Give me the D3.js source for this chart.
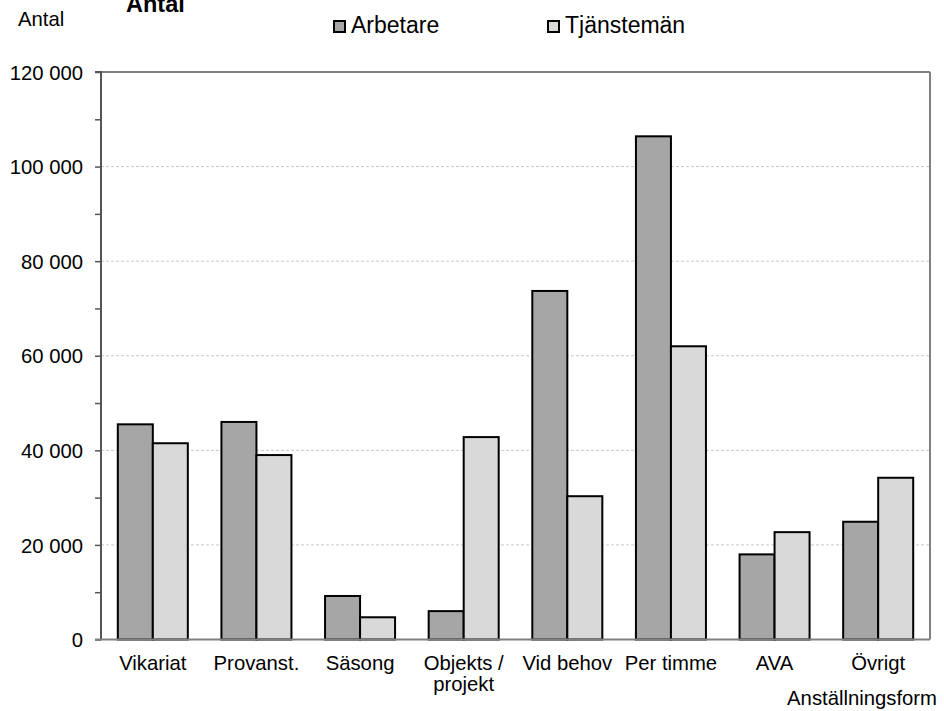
<!DOCTYPE html>
<html><head><meta charset="utf-8">
<script src="https://cdn.jsdelivr.net/npm/d3@7"></script>
<style>body{margin:0;background:#fff}text{font-family:"Liberation Sans",Arial,sans-serif;fill:#000}</style>
</head><body>
<svg id="c" width="944" height="711"></svg>
<script>
const categories = [["Vikariat"],["Provanst."],["Säsong"],["Objekts /","projekt"],["Vid behov"],["Per timme"],["AVA"],["Övrigt"]];
const seriesNames = ["Arbetare","Tjänstemän"];
const arbetare = [45500, 46000, 9200, 6000, 73700, 106400, 18000, 24900];
const tjanstemän = [41500, 39000, 4700, 42800, 30300, 62000, 22700, 34200];
const yTicks = [0, 20000, 40000, 60000, 80000, 100000, 120000];
const colors = ["#a6a6a6", "#d9d9d9"];

const svg = d3.select("#c");
const L = 101, R = 930, T = 72, B = 639.5;
const FS = "20.3px";
const y = d3.scaleLinear().domain([0,120000]).range([B,T]);
const keys = categories.map(c => c.join(" "));
const x0 = d3.scaleBand().domain(keys).range([L,R]).padding(0);
const x1 = d3.scaleBand().domain(seriesNames).range([0,x0.bandwidth()]).paddingInner(0).paddingOuter(0.48);
const fmt = v => d3.format(",")(v).replace(/,/g, " ");

// gridlines
svg.append("g").selectAll("line").data(yTicks.filter(v => v>0 && v<120000)).join("line")
  .attr("x1", L).attr("x2", R).attr("y1", d=>y(d)).attr("y2", d=>y(d))
  .attr("stroke", "#c8c8c8").attr("stroke-width", 1).attr("stroke-dasharray", "3,2");

// plot border top/right
svg.append("line").attr("x1", L).attr("x2", R).attr("y1", T).attr("y2", T).attr("stroke", "#808080").attr("stroke-width", 2);
svg.append("line").attr("x1", R).attr("x2", R).attr("y1", T).attr("y2", B).attr("stroke", "#808080").attr("stroke-width", 2);

// bars
const data = seriesNames.map((s,i) => ({s, vals: i===0 ? arbetare : tjanstemän}));
data.forEach((ser, i) => {
  svg.append("g").selectAll("rect").data(ser.vals).join("rect")
    .attr("x", (d,j) => x0(keys[j]) + x1(ser.s))
    .attr("y", d => y(d))
    .attr("width", x1.bandwidth())
    .attr("height", d => B - y(d))
    .attr("fill", colors[i]).attr("stroke", "#000").attr("stroke-width", 2);
});

// y axis
const yAxis = d3.axisLeft(y).tickValues(d3.range(0,120001,10000)).tickSize(6).tickFormat(d => yTicks.includes(d) ? fmt(d) : "");
const gy = svg.append("g").attr("transform", `translate(${L},0)`).call(yAxis);
gy.select(".domain").attr("stroke", "#555").attr("stroke-width", 2).attr("d", `M-6,${T}H0V${B}`);
gy.selectAll(".tick line").attr("stroke", "#555").attr("stroke-width", 1.5);
gy.selectAll(".tick text").attr("x", -18).attr("dy", "0.35em").style("font-size", FS).style("font-family", '"Liberation Sans",Arial,sans-serif').attr("fill", "#000");

// x axis line
svg.append("line").attr("x1", L - 6).attr("x2", R).attr("y1", B).attr("y2", B).attr("stroke", "#808080").attr("stroke-width", 2);

// x labels
const xl = svg.append("g").selectAll("text").data(categories).join("text")
  .attr("x", (d,i) => x0(keys[i]) + x0.bandwidth()/2)
  .attr("y", 670).attr("text-anchor", "middle").style("font-size", FS);
xl.each(function(d){
  const t = d3.select(this);
  d.forEach((line, k) => t.append("tspan").attr("x", t.attr("x")).attr("dy", k===0 ? 0 : 21).text(line));
});

// axis titles
svg.append("text").attr("x", 937).attr("y", 705).attr("text-anchor", "end").style("font-size", FS).text("Anställningsform");
svg.append("text").attr("x", 18).attr("y", 26).style("font-size", FS).text("Antal");
svg.append("text").attr("x", 126).attr("y", 12).style("font-size", "23.5px").style("font-weight", "bold").text("Antal");

// legend
const lx = [334, 548];
seriesNames.forEach((s,i) => {
  svg.append("rect").attr("x", lx[i]).attr("y", 21).attr("width", 11).attr("height", 11)
    .attr("fill", colors[i]).attr("stroke", "#000").attr("stroke-width", 2);
  svg.append("text").attr("x", lx[i] + 17).attr("y", 33).style("font-size", "23px").text(s);
});
</script>
</body></html>
